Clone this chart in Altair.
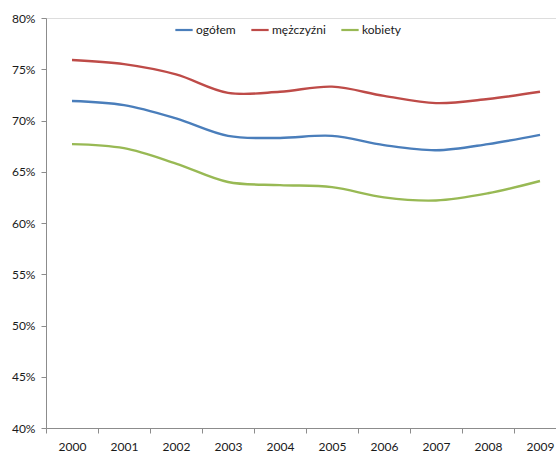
import altair as alt
import pandas as pd

# Employment rate series, 2000-2009
years = [2000, 2001, 2002, 2003, 2004, 2005, 2006, 2007, 2008, 2009]
ogolem = [71.9, 71.5, 70.2, 68.5, 68.3, 68.5, 67.6, 67.1, 67.7, 68.6]
mezczyzni = [75.9, 75.5, 74.5, 72.7, 72.8, 73.3, 72.4, 71.7, 72.1, 72.8]
kobiety = [67.7, 67.3, 65.8, 64.0, 63.7, 63.5, 62.5, 62.2, 62.9, 64.1]

series_names = ["ogółem", "mężczyźni", "kobiety"]
series_colors = ["#4A7EBB", "#BE4B48", "#98B954"]

rows = []
for name, vals in zip(series_names, [ogolem, mezczyzni, kobiety]):
    for yr, v in zip(years, vals):
        rows.append({"rok": yr, "wartosc": v / 100, "seria": name})
df = pd.DataFrame(rows)

FONT = "Lato"
x_min = years[0] - 0.5
x_max = x_min + 510 / 52  # plot runs past the right edge, as in the original layout
boundaries = [y - 0.5 for y in years]
axis_values = sorted(boundaries + years)

chart = (
    alt.Chart(df)
    .mark_line(interpolate="catmull-rom", strokeWidth=2.4)
    .encode(
        x=alt.X(
            "rok:Q",
            scale=alt.Scale(domain=[x_min, x_max], nice=False, zero=False),
            axis=alt.Axis(
                values=axis_values,
                title=None,
                grid=False,
                domainColor="#8c8c8c",
                domainWidth=1,
                tickColor="#8c8c8c",
                tickSize=5,
                tickOpacity=alt.condition("datum.value % 1 != 0", alt.value(1), alt.value(0)),
                labelExpr="datum.value % 1 == 0 ? toString(datum.value) : ''",
                labelPadding=8,
                labelOverlap=False,
                labelFlush=False,
                labelBound=False,
                labelFont=FONT,
                labelFontSize=12,
                labelColor="#1a1a1a",
            ),
        ),
        y=alt.Y(
            "wartosc:Q",
            scale=alt.Scale(domain=[0.4, 0.8], nice=False, zero=False),
            axis=alt.Axis(
                values=[0.4, 0.45, 0.5, 0.55, 0.6, 0.65, 0.7, 0.75, 0.8],
                format=".0%",
                title=None,
                grid=False,
                domainColor="#8c8c8c",
                domainWidth=1,
                tickColor="#8c8c8c",
                tickSize=5,
                labelPadding=6,
                labelFont=FONT,
                labelFontSize=12,
                labelColor="#1a1a1a",
            ),
        ),
        color=alt.Color(
            "seria:N",
            scale=alt.Scale(domain=series_names, range=series_colors),
            sort=series_names,
            legend=alt.Legend(
                title=None,
                orient="none",
                legendX=128,
                legendY=2,
                direction="horizontal",
                symbolType="stroke",
                symbolSize=300,
                symbolStrokeWidth=2.2,
                labelFont=FONT,
                labelFontSize=12,
                labelColor="#1a1a1a",
                labelOffset=2,
                columnPadding=10,
            ),
        ),
    )
    .properties(
        width=510,
        height=410,
        padding={"left": 46, "top": 18, "right": 0, "bottom": 30},
        autosize=alt.AutoSizeParams(type="none"),
    )
    .configure_view(stroke=None)
    .configure(background="white")
)

chart.save("out.html", embed_options={"renderer": "svg", "actions": False})
